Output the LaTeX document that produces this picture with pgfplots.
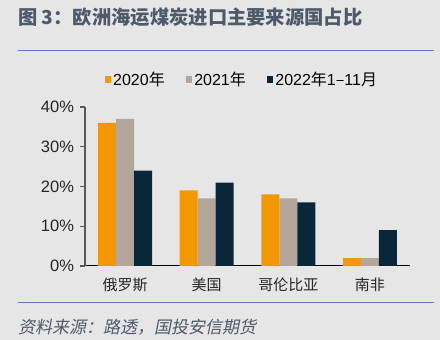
\documentclass[border=0pt]{standalone}
\usepackage{pgfplots}
\pgfplotsset{compat=1.18}
\usepackage{fontspec}
\setmainfont{Liberation Sans}
\newfontfamily\cjk{Noto Sans CJK SC}
\newfontfamily\cjkit[FakeSlant=0.2]{Noto Sans CJK SC}
\definecolor{bg}{HTML}{E6E6E6}
\definecolor{c20}{HTML}{F39800}
\definecolor{c21}{HTML}{B5A69A}
\definecolor{c22}{HTML}{0A2739}
\definecolor{ttl}{HTML}{4D5A6B}
\definecolor{rule}{HTML}{5A7DB8}
\begin{document}
\begin{tikzpicture}
\fill[bg] (0pt,0pt) rectangle (440pt,340pt);
\node[anchor=west, inner sep=0pt, text=ttl] at (18pt,323pt) {\cjk\bfseries\fontsize{19.3}{22}\selectfont 图 3：欧洲海运煤炭进口主要来源国占比};
\draw[rule, line width=1pt] (18pt,289pt) -- (434pt,289pt);
\draw[rule, line width=1pt] (18pt,37pt) -- (434pt,37pt);
\node[anchor=west, inner sep=0pt, text=ttl] at (18pt,13pt) {\cjkit\fontsize{17}{20}\selectfont 资料来源：路透，国投安信期货};
\begin{axis}[
  at={(85pt,74pt)}, anchor=south west,
  scale only axis, width=325pt, height=159pt,
  ybar=0pt, bar width=18pt,
  xmin=-0.49, xmax=3.49, ymin=0, ymax=40,
  xtick=data,
  xticklabels={{\cjk 俄罗斯},{\cjk 美国},{\cjk 哥伦比亚},{\cjk 南非}},
  ytick={0,10,20,30,40},
  yticklabel={\pgfmathprintnumber{\tick}\%},
  /pgf/number format/assume math mode=true,
  axis x line=bottom, axis y line=left,
  x axis line style={-, black, line width=1pt},
  y axis line style={-, black!65, line width=1.3pt},
  xtick style={draw=none},
  ytick style={black!65, line width=1.3pt},
  tick align=outside, major tick length=4.5pt,
  ticklabel style={text=black!85},
  yticklabel style={font=\fontsize{16.5}{18}\selectfont, xshift=-3pt},
  xticklabel style={font=\fontsize{15}{17}\selectfont, yshift=-4pt},
  legend columns=3,
  legend style={at={(0.06,1.17)}, anchor=west, draw=none, fill=none,
    font=\fontsize{16}{18}\selectfont, inner xsep=0pt,
    /tikz/every even column/.append style={column sep=19pt}},
  legend image code/.code={\fill[#1] (0pt,-3pt) rectangle (6.5pt,3.5pt);},
]
\addplot[fill=c20, draw=none] coordinates {(0,36) (1,19) (2,18) (3,2)};
\addplot[fill=c21, draw=none] coordinates {(0,37) (1,17) (2,17) (3,2)};
\addplot[fill=c22, draw=none] coordinates {(0,24) (1,21) (2,16) (3,9)};
\legend{2020{\cjk 年},2021{\cjk 年},2022{\cjk 年}1{\cjk –}11{\cjk 月}}
\end{axis}
\end{tikzpicture}
\end{document}
